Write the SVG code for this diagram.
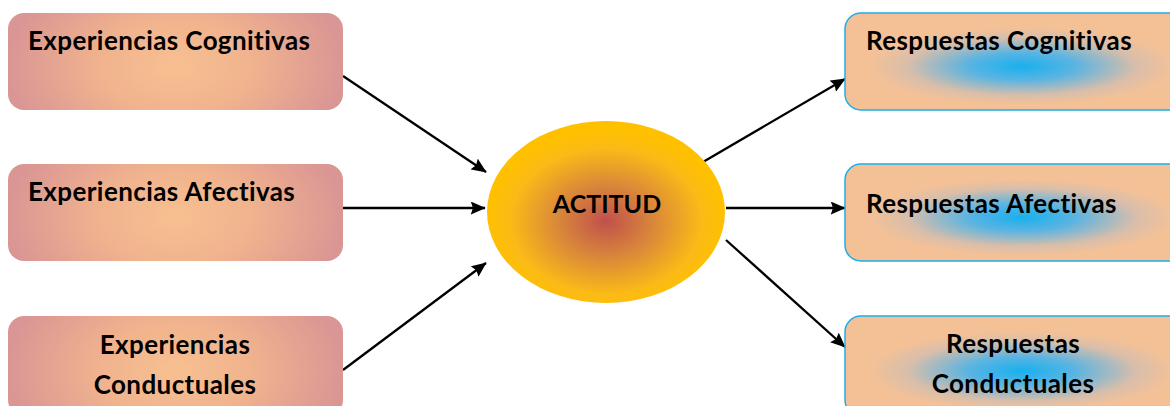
<svg xmlns="http://www.w3.org/2000/svg" width="1170" height="406" viewBox="0 0 1170 406">
  <defs>
    <radialGradient id="gExp" cx="0.5" cy="0.55" r="0.5" fx="0.5" fy="0.55" gradientTransform="translate(0.5 0.55) scale(1 2.2) translate(-0.5 -0.55)">
      <stop offset="0" stop-color="#F8C091"/>
      <stop offset="0.45" stop-color="#F0B38E"/>
      <stop offset="1" stop-color="#DA9694"/>
    </radialGradient>
    <radialGradient id="gResp" cx="0.52" cy="0.55" r="0.5" gradientTransform="translate(0.52 0.55) scale(0.9 0.8) translate(-0.52 -0.55)">
      <stop offset="0" stop-color="#19B0EE"/>
      <stop offset="0.35" stop-color="#5AB4E2"/>
      <stop offset="0.75" stop-color="#D9BEAA"/>
      <stop offset="1" stop-color="#F4C197"/>
    </radialGradient>
    <radialGradient id="gAct" cx="0.5" cy="0.55" r="0.5">
      <stop offset="0" stop-color="#C0504D"/>
      <stop offset="0.4" stop-color="#D9873A"/>
      <stop offset="0.8" stop-color="#FBBA17"/>
      <stop offset="1" stop-color="#FFC000"/>
    </radialGradient>
    <marker id="arrow" viewBox="0 0 10 10" refX="9.5" refY="5" markerWidth="15" markerHeight="13" markerUnits="userSpaceOnUse" orient="auto" preserveAspectRatio="none">
      <path d="M0,0 L10,5 L0,10 L1.5,5 Z" fill="#000"/>
    </marker>
    <style>
      .exp { fill: url(#gExp); }
      .resp { fill: url(#gResp); stroke: #1BAEEA; stroke-width: 1.5; }
      .lbl { font-family: Lato, "Open Sans", "Liberation Sans", sans-serif; font-weight: bold; font-size: 26px; letter-spacing: 0.4px; fill: #000; }
      .mid { text-anchor: middle; }
      .conn { stroke: #000; stroke-width: 2.3; fill: none; marker-end: url(#arrow); }
    </style>
  </defs>

  <!-- connectors -->
  <g id="connectors">
    <line class="conn" x1="343" y1="76" x2="486" y2="172"/>
    <line class="conn" x1="343" y1="208" x2="485" y2="208"/>
    <line class="conn" x1="343" y1="370" x2="486" y2="263"/>
    <line class="conn" x1="703" y1="162" x2="845" y2="79"/>
    <line class="conn" x1="726" y1="208" x2="845" y2="208"/>
    <line class="conn" x1="726" y1="240" x2="845" y2="347"/>
  </g>

  <!-- input experiences -->
  <g id="exp-cognitivas">
    <rect class="exp" x="8" y="13" width="335" height="97" rx="16"/>
    <text class="lbl" x="28" y="50">Experiencias Cognitivas</text>
  </g>
  <g id="exp-afectivas">
    <rect class="exp" x="8" y="164" width="335" height="97" rx="16"/>
    <text class="lbl" x="28" y="201">Experiencias Afectivas</text>
  </g>
  <g id="exp-conductuales">
    <rect class="exp" x="8" y="316" width="335" height="100" rx="16"/>
    <text class="lbl mid" x="175" y="354">Experiencias</text>
    <text class="lbl mid" x="175" y="394">Conductuales</text>
  </g>

  <!-- central node -->
  <g id="actitud">
    <ellipse cx="606" cy="212" rx="119" ry="91" fill="url(#gAct)"/>
    <text class="lbl mid" x="607" y="213" style="font-size:25px;letter-spacing:0">ACTITUD</text>
  </g>

  <!-- output responses -->
  <g id="resp-cognitivas">
    <rect class="resp" x="845" y="13" width="340" height="97" rx="16"/>
    <text class="lbl" x="866" y="50">Respuestas Cognitivas</text>
  </g>
  <g id="resp-afectivas">
    <rect class="resp" x="845" y="164" width="340" height="97" rx="16"/>
    <text class="lbl" x="866" y="213">Respuestas Afectivas</text>
  </g>
  <g id="resp-conductuales">
    <rect class="resp" x="845" y="316" width="340" height="100" rx="16"/>
    <text class="lbl mid" x="1013" y="353">Respuestas</text>
    <text class="lbl mid" x="1013" y="393">Conductuales</text>
  </g>
</svg>
